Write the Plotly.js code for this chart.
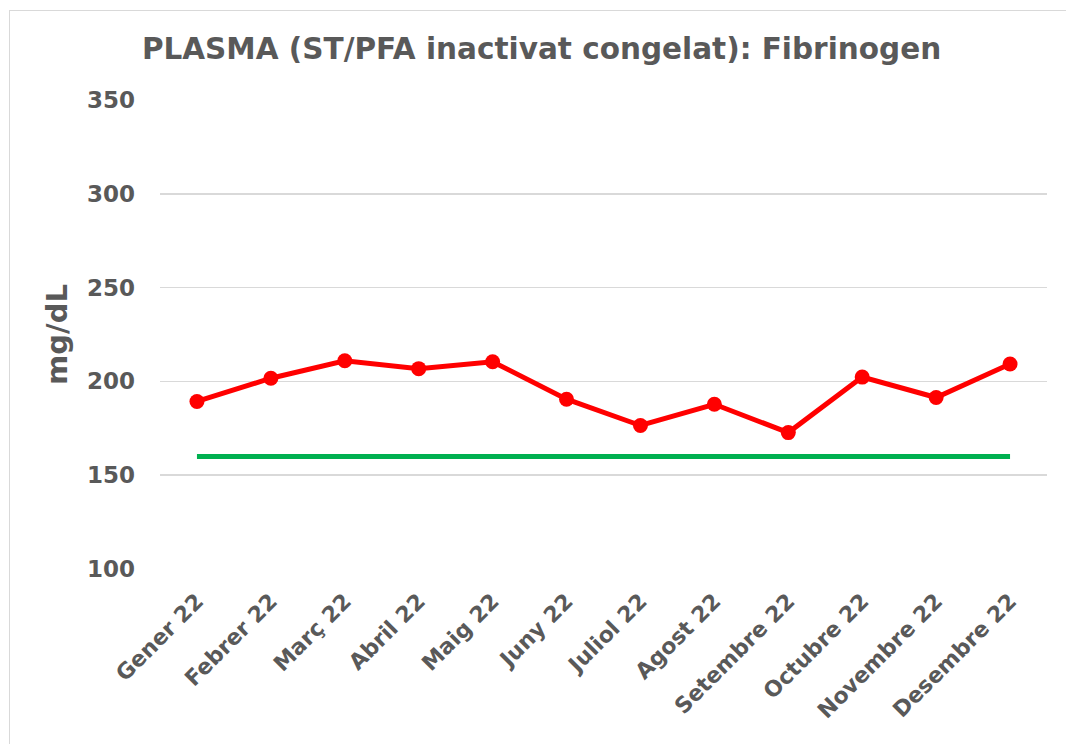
<!DOCTYPE html>
<html>
<head>
<meta charset="utf-8">
<script src="https://cdn.plot.ly/plotly-3.0.1.min.js"></script>
<style>
  body { margin: 0; background: #fff; }
  #frame { position: absolute; left: 9px; top: 10px; width: 1100px; height: 800px; border: 1px solid #d9d9d9; }
  #chart { position: absolute; left: 0; top: 0; width: 1066px; height: 744px; }
</style>
</head>
<body>
<div id="frame"></div>
<div id="chart"></div>
<script>
// mesos i valors de fibrinogen (mg/dL)
const months = ['Gener 22', 'Febrer 22', 'Març 22', 'Abril 22', 'Maig 22', 'Juny 22',
  'Juliol 22', 'Agost 22', 'Setembre 22', 'Octubre 22', 'Novembre 22', 'Desembre 22'];
const fibrinogen = [189.3, 201.7, 211, 206.8, 210.5, 190.5, 176.5, 187.8, 172.7, 202.3, 191.4, 209.3];
const limit = [160, 160, 160, 160, 160, 160, 160, 160, 160, 160, 160, 160];

const grey = '#595959';
const font = 'DejaVu Sans, Verdana, sans-serif';

const traceLimit = {
    x: months,
    y: limit,
    type: 'scatter',
    mode: 'lines',
    line: { color: '#00b050', width: 5 },
    hoverinfo: 'skip'
};

const traceValues = {
    x: months,
    y: fibrinogen,
    type: 'scatter',
    mode: 'lines+markers',
    line: { color: '#ff0000', width: 5 },
    marker: { color: '#ff0000', size: 15 }
};

const layout = {
    width: 1066,
    height: 744,
    margin: { l: 160, r: 19, t: 100, b: 175 },
    showlegend: false,
    paper_bgcolor: 'rgba(0,0,0,0)',
    plot_bgcolor: 'rgba(0,0,0,0)',
    font: { family: font, color: grey },
    title: {
        text: '<b>PLASMA (ST/PFA inactivat congelat): Fibrinogen</b>',
        xref: 'container', x: 0.508, xanchor: 'center',
        yref: 'container', y: 0.935, yanchor: 'middle',
        font: { family: font, size: 29.5, color: grey }
    },
    xaxis: {
        type: 'category',
        range: [-0.5, 11.5],
        tickangle: -45,
        tickfont: { family: font, size: 22, color: grey },
        tickprefix: '<b>', ticksuffix: '</b>',
        showgrid: false,
        showline: false,
        zeroline: false,
        ticks: '',
        ticklabelstandoff: 14
    },
    yaxis: {
        range: [100, 350],
        dtick: 50,
        tickfont: { family: font, size: 23, color: grey },
        tickprefix: '<b>', ticksuffix: '</b>',
        gridcolor: '#d9d9d9',
        gridwidth: 1.5,
        zeroline: false,
        showline: false,
        ticks: '',
        ticklabelstandoff: 24,
        title: { text: '<b>mg/dL</b>', font: { family: font, size: 29, color: grey }, standoff: 10 }
    }
};

Plotly.newPlot('chart', [traceLimit, traceValues], layout, { displayModeBar: false, staticPlot: true });
</script>
</body>
</html>
